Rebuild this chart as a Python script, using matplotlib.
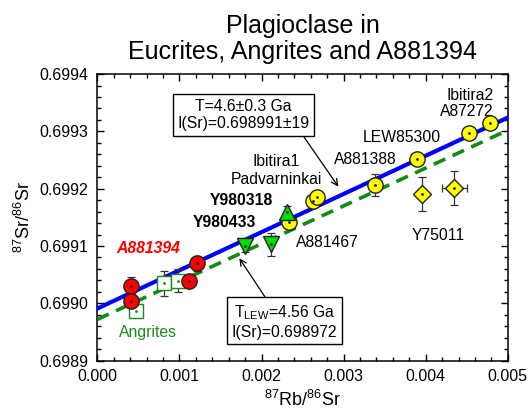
import numpy as np
import matplotlib
matplotlib.use('Agg')
import matplotlib.pyplot as plt
from matplotlib.ticker import MultipleLocator, FormatStrFormatter

plt.rcParams['font.family'] = ['Liberation Sans', 'DejaVu Sans']
plt.rcParams['mathtext.fontset'] = 'custom'
plt.rcParams['mathtext.rm'] = 'Liberation Sans'
plt.rcParams['mathtext.it'] = 'Liberation Sans:italic'
plt.rcParams['mathtext.bf'] = 'Liberation Sans:bold'

# A881394 (red circles)
a881394_x = [0.000407, 0.000407, 0.001211, 0.001114]
a881394_y = [0.6990308, 0.6990041, 0.6990699, 0.6990395]
a881394_err = [0.000016, 0.000012, 0.000013, 0.000010]

# Angrites (open green squares)
angrites_x = [0.000471, 0.000813, 0.000987]
angrites_y = [0.6989867, 0.6990350, 0.6990395]
angrites_err = [0.000010, 0.0000218, 0.0000197]

# Y980433 (green down triangles)
y980433_x = [0.0017995, 0.0021126]
y980433_y = [0.6991000, 0.6991030]
y980433_err = [0.000010, 0.000020]

# Y980318 (green up triangle)
y980318_x = [0.0023148]
y980318_y = [0.6991599]
y980318_err = [0.000010]

# eucrites (yellow circles)
eucrite_x = [0.002332, 0.0026316, 0.0026803, 0.0033833, 0.0038913, 0.0045285, 0.0047844]
eucrite_y = [0.6991414, 0.6991785, 0.6991860, 0.6992059, 0.6992518, 0.6992966, 0.6993140]
eucrite_err = [0.000010, 0.000008, 0.000008, 0.0000192, 0.000010, 0.000008, 0.000008]

# Y75011 (yellow diamonds)
y75011_x = [0.0039522, 0.0043494]
y75011_y = [0.6991907, 0.6992007]
y75011_yerr = [0.0000293, 0.0000297]
y75011_xerr = [0.0, 0.000152]

# isochrons
age_all = 4.6      # Ga
isr_all = 0.698991
age_lew = 4.56     # Ga
isr_lew = 0.698972
lam = 1.402e-11    # 87Rb decay constant, 1/yr


def isochron(x, age, isr):
    return isr + (np.exp(lam * age * 1e9) - 1.0) * x


def plot_points(ax, x, y, yerr, marker, face, edge, size, xerr=None, zorder=5):
    ax.errorbar(x, y, yerr=yerr, xerr=xerr, fmt='none', ecolor='#333333',
                elinewidth=0.9, capsize=3, capthick=0.9, zorder=zorder - 1)
    ax.plot(x, y, linestyle='none', marker=marker, markersize=size,
            markerfacecolor=face, markeredgecolor=edge, markeredgewidth=1.0,
            zorder=zorder)
    ax.plot(x, y, linestyle='none', marker='o', markersize=1.0,
            color=edge, zorder=zorder + 1)


def main():
    fig = plt.figure(figsize=(5.29, 4.16), dpi=100)
    ax = fig.add_axes([0.184, 0.133, 0.776, 0.689])

    xl = np.array([0.0, 0.005])
    ax.plot(xl, isochron(xl, age_all, isr_all), color='#0000ff', lw=3.0, zorder=3)
    ax.plot(xl, isochron(xl, age_lew, isr_lew), color='#128a12', lw=2.6,
            dashes=(3.5, 2.2), zorder=3)

    plot_points(ax, angrites_x, angrites_y, angrites_err, 's', 'white', '#1a8a1a', 10)
    plot_points(ax, a881394_x, a881394_y, a881394_err, 'o', '#ff0000', '#222222', 11)
    plot_points(ax, y980433_x, y980433_y, y980433_err, 'v', '#00e000', '#222222', 11)
    plot_points(ax, eucrite_x, eucrite_y, eucrite_err, 'o', '#ffff00', '#222222', 11)
    plot_points(ax, y980318_x, y980318_y, y980318_err, '^', '#00e000', '#222222', 11, zorder=7)
    plot_points(ax, y75011_x, y75011_y, y75011_yerr, 'D', '#ffff00', '#222222', 9,
                xerr=y75011_xerr)

    fs = 11.3
    ax.text(0.004825, 0.6993634, 'Ibitira2', ha='right', va='center', fontsize=fs)
    ax.text(0.004825, 0.6993355, 'A87272', ha='right', va='center', fontsize=fs)
    ax.text(0.003712, 0.6992889, 'LEW85300', ha='center', va='center', fontsize=fs)
    ax.text(0.003265, 0.6992512, 'A881388', ha='center', va='center', fontsize=fs)
    ax.text(0.002181, 0.6992470, 'Ibitira1', ha='center', va='center', fontsize=fs)
    ax.text(0.002186, 0.6992164, 'Padvarninkai', ha='center', va='center', fontsize=fs)
    ax.text(0.001754, 0.6991790, 'Y980318', ha='center', va='center', fontsize=fs,
            fontweight='bold')
    ax.text(0.001550, 0.6991407, 'Y980433', ha='center', va='center', fontsize=fs,
            fontweight='bold')
    ax.text(0.000626, 0.6990960, 'A881394', ha='center', va='center', fontsize=fs,
            fontweight='bold', style='italic', color='#ff0000')
    ax.text(0.000614, 0.6989488, 'Angrites', ha='center', va='center', fontsize=fs,
            color='#1a8a1a')
    ax.text(0.002805, 0.6991065, 'A881467', ha='center', va='center', fontsize=fs)
    ax.text(0.004151, 0.6991192, 'Y75011', ha='center', va='center', fontsize=fs)

    box = dict(boxstyle='square,pad=0.3', fc='white', ec='black', lw=1.0)
    ax.annotate('T=%.1f\u00b10.3 Ga\nI(Sr)=%.6f\u00b119' % (age_all, isr_all),
                xy=(0.002936, 0.6992035), xytext=(243.3, 416 - 115.2),
                textcoords='figure pixels', ha='center', va='center', fontsize=fs,
                bbox=box, zorder=10,
                arrowprops=dict(arrowstyle='->', color='black', lw=0.9,
                                relpos=(0.93, 0.0), shrinkA=0, shrinkB=0))
    ax.annotate('T$_{\\mathregular{LEW}}$=%.2f Ga\nI(Sr)=%.6f' % (age_lew, isr_lew),
                xy=(0.00173, 0.6990786), xytext=(284.2, 416 - 321.7),
                textcoords='figure pixels', ha='center', va='center', fontsize=fs,
                bbox=box, zorder=10,
                arrowprops=dict(arrowstyle='->', color='black', lw=0.9,
                                relpos=(0.36, 1.0), shrinkA=0, shrinkB=0))

    ax.set_xlim(0.0, 0.005)
    ax.set_ylim(0.6989, 0.6994)
    ax.xaxis.set_major_locator(MultipleLocator(0.001))
    ax.xaxis.set_minor_locator(MultipleLocator(0.0002))
    ax.yaxis.set_major_locator(MultipleLocator(0.0001))
    ax.yaxis.set_minor_locator(MultipleLocator(0.00002))
    ax.xaxis.set_major_formatter(FormatStrFormatter('%.3f'))
    ax.yaxis.set_major_formatter(FormatStrFormatter('%.4f'))
    ax.tick_params(which='both', direction='in', top=True, right=True,
                   labelsize=11.5, width=1.0)
    ax.tick_params(which='major', length=5)
    ax.tick_params(which='minor', length=3)
    ax.tick_params(axis='y', pad=6.5)
    ax.tick_params(axis='x', pad=6)
    for s in ax.spines.values():
        s.set_linewidth(1.1)

    ax.set_xlabel('$\\mathregular{^{87}Rb/^{86}Sr}$', fontsize=13)
    ax.set_ylabel('$\\mathregular{^{87}Sr/^{86}Sr}$', fontsize=13)
    ax.set_title('Plagioclase in\nEucrites, Angrites and A881394', fontsize=18,
                 linespacing=1.08, pad=11)

    fig.savefig('out.png', dpi=100)


if __name__ == "__main__":
    main()
